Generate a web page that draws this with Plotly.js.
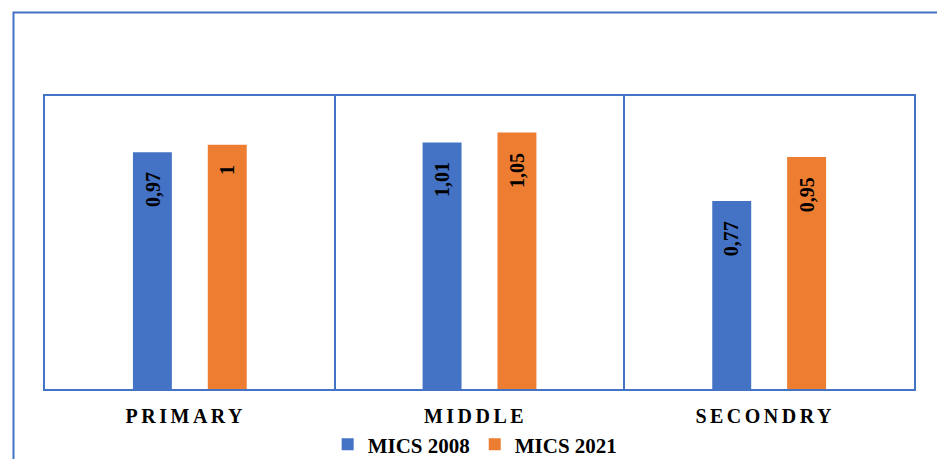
<!DOCTYPE html>
<html>
<head>
<meta charset="utf-8">
<script src="https://cdn.plot.ly/plotly-3.0.1.min.js"></script>
<style>
  html, body { margin: 0; padding: 0; background: #fff; }
  #chart { width: 937px; height: 459px; }
  .xtick text { letter-spacing: 3.5px; }
</style>
</head>
<body>
<div id="chart"></div>
<script>
// ---- data ----
const categories = ["PRIMARY", "MIDDLE", "SECONDRY"];
const seriesNames = ["MICS 2008", "MICS 2021"];
const mics2008 = [0.97, 1.01, 0.77];
const mics2021 = [1, 1.05, 0.95];

// ---- style ----
const BLUE = "#4472C4";
const ORANGE = "#ED7D31";
const SERIF = "Liberation Serif";
const BARGAP = 0.483;
const BARGROUPGAP = 0.48;

const fmt = v => String(v).replace(".", ",");

const traces = [
  { type: "bar", name: seriesNames[0], x: categories, y: mics2008,
    marker: { color: BLUE }, hoverinfo: "none" },
  { type: "bar", name: seriesNames[1], x: categories, y: mics2021,
    marker: { color: ORANGE }, hoverinfo: "none" }
];

// rotated data labels inside the top of each bar
const slot = (1 - BARGAP) / 2;
const annotations = [];
[mics2008, mics2021].forEach((vals, s) => {
  vals.forEach((v, i) => {
    annotations.push({
      xref: "x", yref: "y",
      x: i + (s === 0 ? -slot / 2 : slot / 2),
      y: v,
      text: fmt(v),
      showarrow: false,
      textangle: -90,
      xanchor: "center", yanchor: "top",
      yshift: -18,
      font: { family: SERIF, size: 20, color: "#000", weight: 700 }
    });
  });
});

const layout = {
  width: 937, height: 459,
  margin: { l: 45, r: 23, t: 96, b: 70, autoexpand: false },
  paper_bgcolor: "#fff", plot_bgcolor: "#fff",
  barmode: "group",
  bargap: BARGAP, bargroupgap: BARGROUPGAP,
  showlegend: true,
  legend: {
    orientation: "h", x: 0.495, xanchor: "center", y: -0.19, yanchor: "middle",
    font: { family: SERIF, size: 21, color: "#000", weight: 700 },
    itemwidth: 30, traceorder: "normal"
  },
  xaxis: {
    type: "category",
    showline: true, mirror: true, linecolor: BLUE, linewidth: 2,
    showgrid: true, tickson: "boundaries", gridcolor: BLUE, gridwidth: 2,
    ticks: "", ticklabelshift: -4, ticklabelstandoff: 8,
    tickfont: { family: SERIF, size: 20, color: "#000", weight: 700 },
    fixedrange: true
  },
  yaxis: {
    range: [0, 1.2],
    showline: true, mirror: true, linecolor: BLUE, linewidth: 2,
    showgrid: false, zeroline: false, showticklabels: false, ticks: "",
    fixedrange: true
  },
  annotations: annotations,
  shapes: [{
    type: "rect", xref: "paper", yref: "paper",
    x0: -0.03625, x1: 1.2, y0: -0.5, y1: 1.285,
    line: { color: BLUE, width: 2 }, layer: "below"
  }]
};

Plotly.newPlot("chart", traces, layout, { displayModeBar: false, staticPlot: true });
</script>
</body>
</html>
